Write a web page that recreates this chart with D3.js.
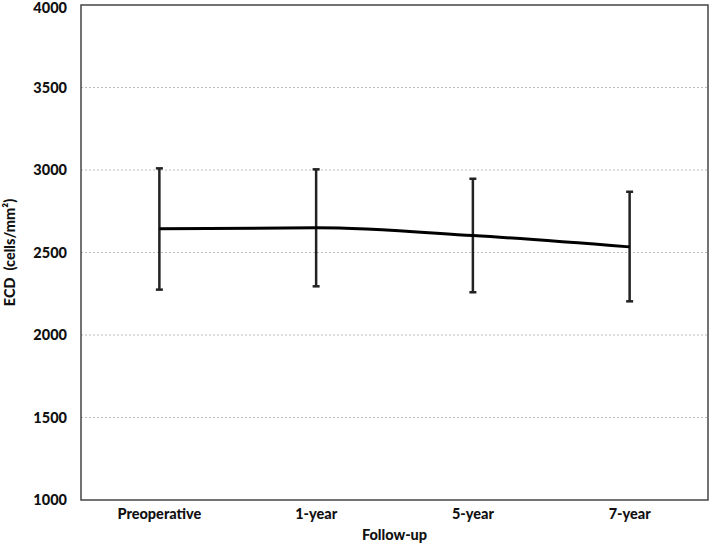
<!DOCTYPE html>
<html><head><meta charset="utf-8">
<script src="https://cdn.jsdelivr.net/npm/d3@7"></script>
<style>body{margin:0;background:#fff;} text{font-family:Lato,"Open Sans",sans-serif;font-weight:900;fill:#111;}</style>
</head><body>
<svg id="c" width="709" height="543"></svg>
<script>
const categories = ["Preoperative","1-year","5-year","7-year"];
const means = [2644, 2650, 2603, 2534];
const upper = [3010, 3004, 2947, 2868];
const lower = [2275, 2295, 2259, 2204];
const yTicks = [1000,1500,2000,2500,3000,3500,4000];

const svg = d3.select("#c");
const L=81, R=708, T=5, B=500;
const x = d3.scaleBand().domain(categories).range([L,R]);
const y = d3.scaleLinear().domain([1000,4000]).range([B,T]);

// gridlines
svg.append("g").selectAll("line").data(yTicks.filter(d=>d>1000&&d<4000)).join("line")
  .attr("x1",L).attr("x2",R).attr("y1",d=>y(d)).attr("y2",d=>y(d))
  .attr("stroke","#bbb").attr("stroke-width",1).attr("stroke-dasharray","2,2");

// y tick labels
const ya = svg.append("g").attr("transform",`translate(${L},0)`)
  .call(d3.axisLeft(y).tickValues(yTicks).tickSize(0).tickPadding(14).tickFormat(d3.format("d")));
ya.select(".domain").remove();
ya.selectAll("text").attr("font-size",14.5).style("font-family","Lato,'Open Sans',sans-serif").style("font-weight","900").attr("fill","#111")
  .attr("dy", d => d===4000 ? "0.5em" : "0.32em");

// x tick labels
const xa = svg.append("g").attr("transform",`translate(0,${B})`)
  .call(d3.axisBottom(x).tickSize(0).tickPadding(9));
xa.select(".domain").remove();
xa.selectAll("text").attr("font-size",14.5).style("font-family","Lato,'Open Sans',sans-serif").style("font-weight","900").attr("fill","#111");

// border
svg.append("rect").attr("x",L).attr("y",T).attr("width",R-L).attr("height",B-T)
  .attr("fill","none").attr("stroke","#444").attr("stroke-width",1.5);

const cx = d => x(d)+x.bandwidth()/2;
// error bars
const eb = svg.append("g").attr("stroke","#222").attr("stroke-width",2.5);
categories.forEach((c,i)=>{
  eb.append("line").attr("x1",cx(c)).attr("x2",cx(c)).attr("y1",y(upper[i])).attr("y2",y(lower[i]));
  eb.append("line").attr("x1",cx(c)-3.5).attr("x2",cx(c)+3.5).attr("y1",y(upper[i])).attr("y2",y(upper[i]));
  eb.append("line").attr("x1",cx(c)-3.5).attr("x2",cx(c)+3.5).attr("y1",y(lower[i])).attr("y2",y(lower[i]));
});

// line
const line = d3.line().x((d,i)=>cx(categories[i])).y(d=>y(d)).curve(d3.curveMonotoneX);
svg.append("path").datum(means).attr("d",line).attr("fill","none").attr("stroke","#000").attr("stroke-width",3);

// axis titles
svg.append("text").attr("x",(L+R)/2).attr("y",540).attr("text-anchor","middle").attr("font-size",14.5).text("Follow-up");
svg.append("text").attr("transform",`translate(15,${(T+B)/2}) rotate(-90)`).attr("text-anchor","middle").attr("font-size",14.5)
  .attr("xml:space","preserve").text("ECD  (cells/mm²)");
</script>
</body></html>
